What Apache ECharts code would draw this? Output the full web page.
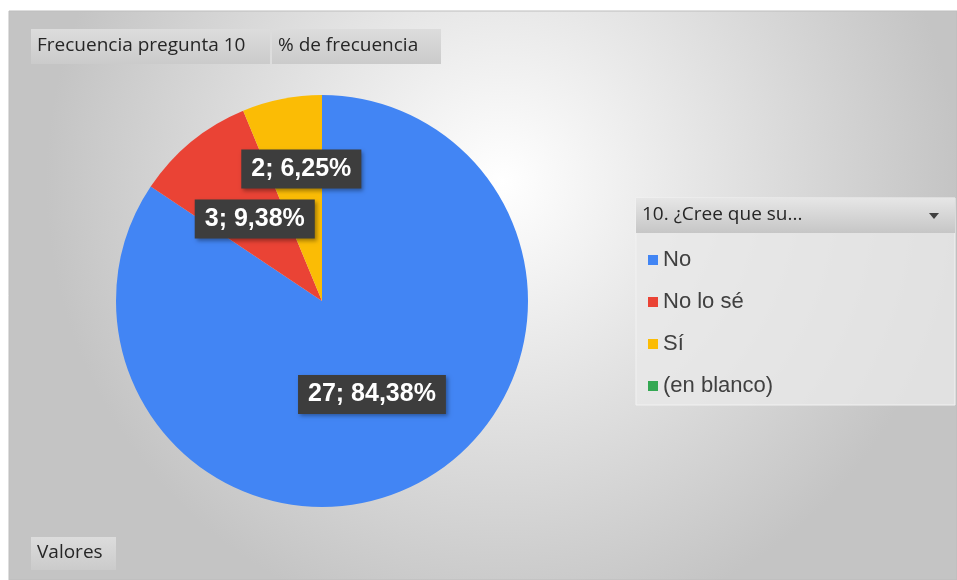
<!DOCTYPE html>
<html>
<head>
<meta charset="utf-8">
<script src="https://cdn.jsdelivr.net/npm/echarts@6/dist/echarts.min.js"></script>
<style>
  html, body { margin: 0; padding: 0; background: #fff; }
  #chart { width: 957px; height: 580px; }
</style>
</head>
<body>
<div id="chart"></div>
<script>
const categories = ['No', 'No lo sé', 'Sí', '(en blanco)']
const counts = [27, 3, 2, 0]
const percents = ['84,38%', '9,38%', '6,25%', '0,00%']
const colors = ['#4285F4', '#EA4335', '#FBBC05', '#34A853']
const fieldButtons = ['Frecuencia pregunta 10', '% de frecuencia']
const legendTitle = '10. ¿Cree que su...'
const footerButton = 'Valores'

const chart = echarts.init(document.getElementById('chart'))

const btnFill = {
  type: 'linear', x: 0, y: 0, x2: 0, y2: 1,
  colorStops: [{ offset: 0, color: '#dcdcdc' }, { offset: 1, color: '#cbcbcb' }]
}
function btnText(text, x, y) {
  return {
    type: 'text', x: x, y: y,
    style: { text: text, fill: '#262626', fontSize: 19, fontFamily: 'Open Sans', verticalAlign: 'middle' }
  }
}

const data = categories.map((name, i) => ({
  name: name,
  value: counts[i],
  pct: percents[i],
  itemStyle: { color: colors[i] },
  label: counts[i] === 0 ? { show: false } : (i === 2 ? { offset: [0, -28] } : {})
}))

const option = {
  animation: false,
  graphic: [
    {
      type: 'rect', shape: { x: 9, y: 11, width: 948, height: 569 },
      style: {
        fill: {
          type: 'radial', x: 0.52, y: 0.3, r: 0.8,
          colorStops: [{ offset: 0, color: '#ffffff' }, { offset: 1, color: '#c4c4c4' }]
        },
        stroke: '#bdbdbd', lineWidth: 1
      }
    },
    // field buttons at top
    { type: 'rect', shape: { x: 31, y: 29, width: 239, height: 35 }, style: { fill: btnFill } },
    btnText(fieldButtons[0], 37, 46),
    { type: 'rect', shape: { x: 272, y: 29, width: 169, height: 35 }, style: { fill: btnFill } },
    btnText(fieldButtons[1], 278, 46),
    // bottom button
    { type: 'rect', shape: { x: 31, y: 537, width: 85, height: 33 }, style: { fill: btnFill } },
    btnText(footerButton, 37, 553),
    // legend panel
    {
      type: 'rect', shape: { x: 636, y: 198, width: 319, height: 207 },
      style: { fill: 'rgba(232,232,232,0.8)', stroke: '#f2f2f2', lineWidth: 1 }
    },
    {
      type: 'rect', shape: { x: 636, y: 198, width: 319, height: 35 },
      style: {
        fill: {
          type: 'linear', x: 0, y: 0, x2: 0, y2: 1,
          colorStops: [{ offset: 0, color: '#e6e6e6' }, { offset: 1, color: '#c6c6c6' }]
        }
      }
    },
    btnText(legendTitle, 642, 215),
    {
      type: 'polygon', shape: { points: [[929, 213], [939, 213], [934, 219]] },
      style: { fill: '#404040' }
    }
  ],
  legend: {
    orient: 'vertical',
    left: 643,
    top: 244,
    icon: 'rect',
    itemWidth: 10,
    itemHeight: 10,
    itemGap: 20,
    textStyle: { fontSize: 22, color: '#404040', fontFamily: 'Liberation Sans', lineHeight: 22 },
    data: categories
  },
  series: [{
    type: 'pie',
    center: [322, 301],
    radius: 206,
    startAngle: 90,
    clockwise: true,
    avoidLabelOverlap: false,
    itemStyle: { borderWidth: 0 },
    label: {
      position: 'inside',
      formatter: p => p.data.value + '; ' + p.data.pct,
      color: '#ffffff',
      fontSize: 25,
      fontWeight: 'bold',
      fontFamily: 'Liberation Sans',
      backgroundColor: '#3d3d3d',
      padding: [7, 10, 7, 10],
      shadowColor: 'rgba(0,0,0,0.35)',
      shadowBlur: 4,
      shadowOffsetX: 2,
      shadowOffsetY: 2
    },
    labelLine: { show: false },
    emphasis: { disabled: true },
    data: data
  }]
}

chart.setOption(option)
</script>
</body>
</html>
